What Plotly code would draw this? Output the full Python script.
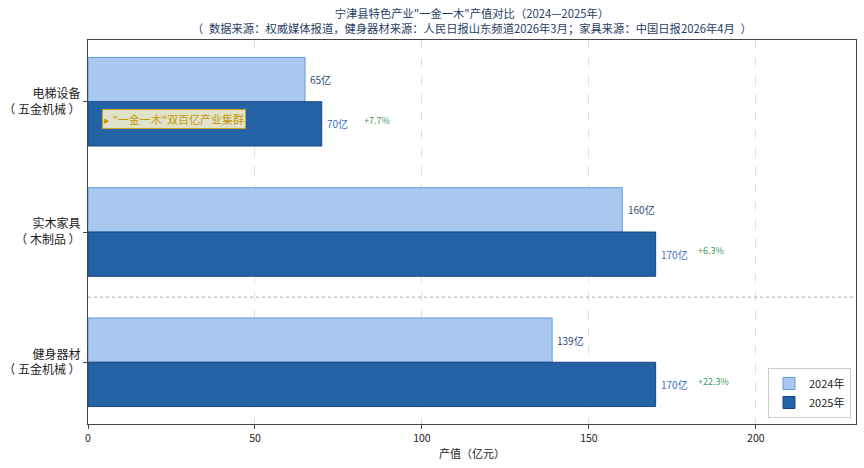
import plotly.graph_objects as go

SP = "\u2002"
categories = ["健身器材<br>（ 五金机械 ）", "实木家具<br>（ 木制品 ）", "电梯设备<br>（ 五金机械 ）"]
values_2024 = [139, 160, 65]
values_2025 = [170, 170, 70]
labels_2024 = ["139亿", "160亿", "65亿"]
labels_2025 = ["170亿", "170亿", "70亿"]
growth = ["+22.3%", "+6.3%", "+7.7%"]
x_ticks = [0, 50, 100, 150, 200]
title_lines = ["宁津县特色产业\"一金一木\"产值对比（2024—2025年）",
               "（" + SP + "数据来源：权威媒体报道，健身器材来源：人民日报山东频道2026年3月；家具来源：中国日报2026年4月" + SP + "）"]

FONT = "Noto Sans CJK SC, Noto Sans, sans-serif"
bar_h = 0.34
pos = list(range(len(categories)))

fig = go.Figure()
fig.add_trace(go.Bar(
    y=[p + bar_h / 2 for p in pos], x=values_2024, orientation="h", width=bar_h,
    name="2024年", marker=dict(color="#a8c8f0", line=dict(color="#5f9bdc", width=1)),
    hoverinfo="skip"))
fig.add_trace(go.Bar(
    y=[p - bar_h / 2 for p in pos], x=values_2025, orientation="h", width=bar_h,
    name="2025年", marker=dict(color="#2462a6", line=dict(color="#1a4680", width=1)),
    hoverinfo="skip"))

for p, v, t in zip(pos, values_2024, labels_2024):
    fig.add_annotation(x=v + 1, y=p + bar_h / 2, text=t, showarrow=False, xanchor="left",
                       font=dict(size=10, color="#2d4a78", family=FONT))
for p, v, t, g in zip(pos, values_2025, labels_2025, growth):
    fig.add_annotation(x=v + 1, y=p - bar_h / 2, text=t, showarrow=False, xanchor="left",
                       font=dict(size=10, color="#3a6fc0", family=FONT))
    fig.add_annotation(x=v + 12, y=p - bar_h / 2 + 0.025, text=g, showarrow=False, xanchor="left",
                       font=dict(size=9, color="#3a9a5a", family=FONT))

fig.add_annotation(x=4.2, y=2 - 0.135, text="▸ \"一金一木\"双百亿产业集群", showarrow=False,
                   xanchor="left", font=dict(size=11, color="#c49a0a", family=FONT),
                   bgcolor="rgba(245,242,205,0.9)", bordercolor="#c9a227", borderwidth=1,
                   borderpad=1)

fig.add_annotation(xref="paper", yref="paper", x=0.5, y=1, yanchor="bottom", yshift=2,
                   text=title_lines[0] + "<br>" + title_lines[1], showarrow=False,
                   xanchor="center", font=dict(size=11.3, color="#1f3d66", family=FONT))

fig.add_shape(type="line", xref="paper", x0=0, x1=1, y0=0.5, y1=0.5,
              line=dict(color="#aaaaaa", width=1, dash="dot"))

fig.update_layout(
    width=864, height=468,
    margin=dict(l=88, r=8, t=40, b=44, autoexpand=False),
    plot_bgcolor="white", paper_bgcolor="white",
    font=dict(family=FONT, size=11, color="#222222"),
    barmode="overlay",
    showlegend=True,
    legend=dict(x=0.9935, y=0.0156, xanchor="right", yanchor="bottom", traceorder="normal",
                bgcolor="white", bordercolor="#cccccc", borderwidth=1,
                font=dict(size=11, family=FONT)),
    xaxis=dict(range=[0, 230], tickvals=x_ticks, ticks="outside", ticklen=4,
               showgrid=True, gridcolor="#dddddd", griddash="dash", zeroline=False,
               showline=True, linecolor="#444444", mirror=True, automargin=False,
               title=dict(text="产值（亿元）", font=dict(size=11), standoff=6),
               tickfont=dict(size=10.5)),
    yaxis=dict(range=[-0.474, 2.474], tickvals=pos, ticktext=categories, ticks="outside",
               ticklen=4, showgrid=False, zeroline=False, showline=True, automargin=False,
               linecolor="#444444", mirror=True, tickfont=dict(size=12)),
)

fig.write_html("out.html", post_script="document.body.style.margin='0';",
               config={"displayModeBar": False})
